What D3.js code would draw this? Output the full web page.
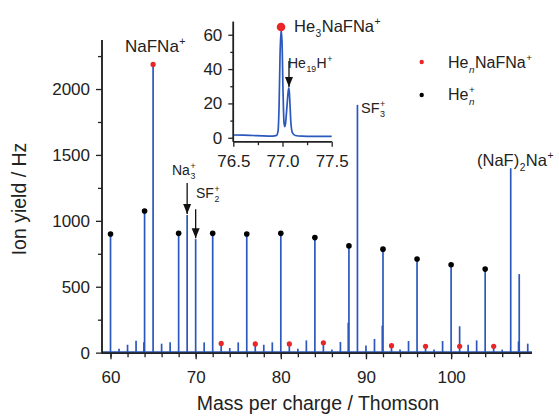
<!DOCTYPE html>
<html>
<head>
<meta charset="utf-8">
<script src="https://cdn.jsdelivr.net/npm/d3@7"></script>
<style>
  body { margin: 0; background: #fff; }
  text { font-family: "Liberation Sans", Arial, sans-serif; fill: #222; }
</style>
</head>
<body>
<div id="chart"></div>
<script>

var width = 559;
var height = 417;

// main spectrum: peak positions (Th) and peak heights (Hz)
var peakMass = [60, 61, 62, 63, 63.92, 64, 65, 66, 67, 68, 69, 70, 71, 72, 73, 74, 75, 76, 77, 78,
                79, 80, 81, 82, 83, 84, 85, 86, 87, 87.92, 88, 89, 90, 91, 91.92, 92, 93, 94, 95, 96,
                97, 98, 99, 100, 101, 102, 103, 104, 105, 106, 107, 107.92, 108, 109];
var peakYield = [900, 30, 60, 91, 78, 1075, 2180, 68, 78, 905, 1045, 861, 78, 905, 60, 35, 78, 900, 55, 60,
                 78, 905, 55, 30, 93, 873, 65, 23, 81, 227, 810, 1880, 55, 104, 205, 785, 45, 23, 88, 710,
                 40, 23, 88, 667, 200, 60, 93, 634, 40, 23, 1399, 86, 596, 68];

// He_n NaFNa+ markers (red) and He_n+ markers (black)
var redMass = [65, 73, 77, 81, 85, 93, 97, 101, 105];
var redYield = [2187, 70, 66, 66, 75, 53, 48, 48, 48];
var blackMass = [60, 64, 68, 72, 76, 80, 84, 88, 92, 96, 100, 104];
var blackYield = [900, 1075, 905, 905, 900, 905, 873, 810, 785, 710, 667, 634];

// inset trace around 77 Th
var insetMass = [76.5, 76.6, 76.7, 76.8, 76.9, 76.94, 76.955, 76.965, 76.975, 76.985, 76.995, 77.005,
                 77.015, 77.022, 77.03, 77.045, 77.058, 77.066, 77.074, 77.085, 77.1, 77.13, 77.2, 77.3, 77.4, 77.5];
var insetYield = [1.6, 1.5, 1.3, 1.1, 1.0, 1.4, 4, 18, 48, 63, 56, 28,
                  9, 6.5, 8, 18, 27, 29, 22, 9, 3, 1.3, 0.9, 0.8, 0.8, 0.8];
var insetDotMass = 76.985, insetDotYield = 64.5;
var he19Mass = 77.066, he19Yield = 29;

var xTicks = [60, 70, 80, 90, 100];
var yTicks = [0, 500, 1000, 1500, 2000];
var ixTicks = [76.5, 77.0, 77.5];
var iyTicks = [0, 20, 40, 60];

var blue = "#2b58bd";
var red = "#e8262a";
var ink = "#222";

var svg = d3.select("#chart")
    .append("svg")
        .attr("width", width)
        .attr("height", height);

var defs = svg.append("defs");
defs.append("marker")
    .attr("id", "arrow")
    .attr("viewBox", "0 0 10 10")
    .attr("refX", 10).attr("refY", 5)
    .attr("markerWidth", 10).attr("markerHeight", 10)
    .attr("markerUnits", "userSpaceOnUse")
    .attr("orient", "auto")
  .append("path")
    .attr("d", "M0,1 L10,5 L0,9 Z")
    .attr("fill", "#111");

// ---- main scales
var x = d3.scaleLinear().domain([59, 109.5]).range([102, 532]);
var y = d3.scaleLinear().domain([-5, 2372]).range([353.3, 40]);

// baseline of the spectrum
svg.append("line")
    .attr("x1", x(59)).attr("x2", x(109.5))
    .attr("y1", y(4)).attr("y2", y(4))
    .attr("stroke", blue).attr("stroke-width", 1.6);

svg.selectAll("line.peak")
    .data(peakMass)
    .enter().append("line")
        .attr("class", "peak")
        .attr("x1", function(d) { return x(d); })
        .attr("x2", function(d) { return x(d); })
        .attr("y1", y(4))
        .attr("y2", function(d, i) { return y(peakYield[i]); })
        .attr("stroke", blue)
        .attr("stroke-width", 1.7);

svg.selectAll("circle.he")
    .data(blackMass)
    .enter().append("circle")
        .attr("class", "he")
        .attr("r", 2.8)
        .attr("cx", function(d) { return x(d); })
        .attr("cy", function(d, i) { return y(blackYield[i]); })
        .attr("fill", "#000");

svg.selectAll("circle.nafna")
    .data(redMass)
    .enter().append("circle")
        .attr("class", "nafna")
        .attr("r", 2.6)
        .attr("cx", function(d) { return x(d); })
        .attr("cy", function(d, i) { return y(redYield[i]); })
        .attr("fill", red);

// axes
var xMajor = d3.axisBottom(x).tickValues(xTicks).tickSize(6).tickPadding(12).tickFormat(d3.format("d"));
var xMinor = d3.axisBottom(x).tickValues(d3.range(60, 110, 2)).tickSize(4).tickFormat("");
var yMajor = d3.axisLeft(y).tickValues(yTicks).tickSize(6).tickPadding(6).tickFormat(d3.format("d"));
var yMinor = d3.axisLeft(y).tickValues(d3.range(250, 2372, 500)).tickSize(4).tickFormat("");

function styleAxis(g, size) {
    g.select(".domain").attr("stroke", ink).attr("stroke-width", 1.5);
    g.selectAll(".tick line").attr("stroke", ink).attr("stroke-width", 1.3);
    g.selectAll(".tick text").attr("font-size", size).attr("fill", ink)
        .attr("font-family", "Liberation Sans, Arial, sans-serif");
}

var gx = svg.append("g").attr("transform", "translate(0," + y(-5) + ")");
gx.append("g").call(xMinor).call(styleAxis, 17);
gx.append("g").call(xMajor).call(styleAxis, 17);
gx.selectAll(".domain").attr("d", "M" + x(59) + ",0H" + x(109.5));

var gy = svg.append("g").attr("transform", "translate(" + x(59) + ",0)");
gy.append("g").call(yMinor).call(styleAxis, 17);
gy.append("g").call(yMajor).call(styleAxis, 17);
gy.selectAll(".domain").attr("d", "M0," + y(-5) + "V" + y(2372));

svg.append("text")
    .attr("x", 318).attr("y", 410)
    .attr("text-anchor", "middle")
    .attr("font-size", 19.5)
    .text("Mass per charge / Thomson");

svg.append("text")
    .attr("transform", "translate(26,199) rotate(-90)")
    .attr("text-anchor", "middle")
    .attr("font-size", 19.5)
    .text("Ion yield / Hz");

// ---- rich text helper: segments of normal / sub / sup / stacked scripts
function rich(x0, y0, size, segs) {
    var cx = x0;
    var small = size * 0.62;
    function put(t, px, py, fs, it) {
        var n = svg.append("text")
            .attr("x", px).attr("y", py)
            .attr("font-size", fs)
            .attr("font-style", it ? "italic" : "normal")
            .text(t);
        return n.node().getComputedTextLength();
    }
    segs.forEach(function(s) {
        if (s.stack) {
            var a = put(s.stack[0], cx + 0.5, y0 - size * 0.42, small, false);
            var b = put(s.stack[1], cx + 0.5, y0 + size * 0.3, small, s.it);
            cx += Math.max(a, b) + 1;
        } else if (s.sup) {
            cx += put(s.sup, cx + 0.5, y0 - size * 0.42, small, false) + 1;
        } else if (s.sub) {
            cx += put(s.sub, cx + 0.5, y0 + size * 0.3, small, s.it) + 1;
        } else {
            cx += put(s.t, cx, y0, size, false);
        }
    });
}

rich(125, 52, 17, [{t: "NaFNa"}, {sup: "+"}]);
rich(172, 175, 14, [{t: "Na"}, {stack: ["+", "3"]}]);
rich(196, 198, 14, [{t: "SF"}, {stack: ["+", "2"]}]);
rich(361, 113, 14.5, [{t: "SF"}, {stack: ["+", "3"]}]);
rich(477, 166, 16.5, [{t: "(NaF)"}, {sub: "2"}, {t: "Na"}, {sup: "+"}]);

// arrows to Na3+ and SF2+
svg.append("line")
    .attr("x1", x(69)).attr("x2", x(69))
    .attr("y1", y(1045) - 32).attr("y2", y(1045) - 1)
    .attr("stroke", "#111").attr("stroke-width", 1.3)
    .attr("marker-end", "url(#arrow)");
svg.append("line")
    .attr("x1", x(70)).attr("x2", x(70))
    .attr("y1", y(861) - 30).attr("y2", y(861) - 1)
    .attr("stroke", "#111").attr("stroke-width", 1.3)
    .attr("marker-end", "url(#arrow)");

// legend
svg.append("circle").attr("cx", 421.7).attr("cy", 62).attr("r", 2.2).attr("fill", red);
rich(448, 68, 16, [{t: "He"}, {sub: "n", it: true}, {t: "NaFNa"}, {sup: "+"}]);
svg.append("circle").attr("cx", 421.7).attr("cy", 95).attr("r", 2.2).attr("fill", "#000");
rich(448, 100, 16, [{t: "He"}, {stack: ["+", "n"], it: true}]);

// ---- inset
var xi = d3.scaleLinear().domain([76.5, 77.5]).range([233.3, 331.7]);
var yi = d3.scaleLinear().domain([-2.3, 67.6]).range([141.7, 21.7]);

var insetLine = d3.line()
    .x(function(d, i) { return xi(insetMass[i]); })
    .y(function(d, i) { return yi(insetYield[i]); })
    .curve(d3.curveMonotoneX);

svg.append("path")
    .datum(insetMass)
    .attr("fill", "none")
    .attr("stroke", blue)
    .attr("stroke-width", 1.7)
    .attr("d", insetLine);

svg.append("circle")
    .attr("cx", xi(insetDotMass)).attr("cy", yi(insetDotYield))
    .attr("r", 4.3).attr("fill", red);

var ixMajor = d3.axisBottom(xi).tickValues(ixTicks).tickSize(5).tickPadding(8).tickFormat(d3.format(".1f"));
var ixMinor = d3.axisBottom(xi).tickValues([76.75, 77.25]).tickSize(3.5).tickFormat("");
var iyMajor = d3.axisLeft(yi).tickValues(iyTicks).tickSize(5).tickPadding(6).tickFormat(d3.format("d"));
var iyMinor = d3.axisLeft(yi).tickValues([10, 30, 50]).tickSize(3).tickFormat("");

var gix = svg.append("g").attr("transform", "translate(0," + yi(-2.3) + ")");
gix.append("g").call(ixMinor).call(styleAxis, 17);
gix.append("g").call(ixMajor).call(styleAxis, 17);
gix.selectAll(".domain").attr("d", "M" + xi(76.5) + ",0H" + xi(77.5));

var giy = svg.append("g").attr("transform", "translate(" + xi(76.5) + ",0)");
giy.append("g").call(iyMinor).call(styleAxis, 17);
giy.append("g").call(iyMajor).call(styleAxis, 17);
giy.selectAll(".domain").attr("d", "M0," + yi(-2.3) + "V" + yi(67.6));

rich(294, 32, 16.5, [{t: "He"}, {sub: "3"}, {t: "NaFNa"}, {sup: "+"}]);
rich(288, 68, 14, [{t: "He"}, {sub: "19"}, {t: "H"}, {sup: "+"}]);

svg.append("line")
    .attr("x1", xi(he19Mass)).attr("x2", xi(he19Mass))
    .attr("y1", yi(he19Yield) - 27).attr("y2", yi(he19Yield) - 1)
    .attr("stroke", "#111").attr("stroke-width", 1.3)
    .attr("marker-end", "url(#arrow)");

</script>
</body>
</html>
